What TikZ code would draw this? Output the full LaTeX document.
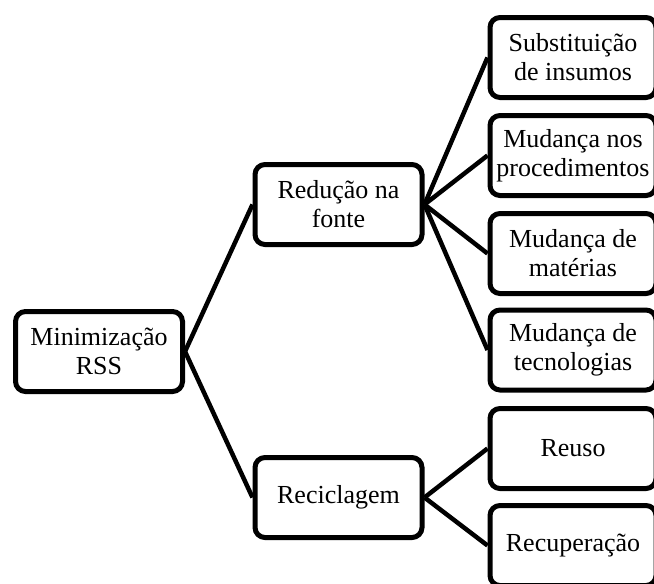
\documentclass[tikz,border=0pt]{standalone}
\usepackage{fontspec}
\setmainfont{Liberation Serif}
\begin{document}
\begin{tikzpicture}[x=1pt,y=-1pt,
  box/.style={draw,line width=5pt,rounded corners=10pt,align=center,inner sep=0pt,
    font=\fontsize{26}{29}\selectfont,minimum width=167pt,minimum height=80pt},
  leaf/.style={box,minimum width=166pt},
  conn/.style={line width=4.5pt}]
\path[use as bounding box] (0,0) rectangle (654,584);
\clip (0,0) rectangle (654,584);
\node[box] (min) at (99,351.5) {Minimização\\RSS};
\node[box] (red) at (338.5,204.5) {Redução na\\fonte};
\node[box] (rec) at (338.5,497.5) {Reciclagem};
\node[leaf] (sub) at (573,57.5) {Substituição\\de insumos};
\node[leaf] (proc) at (573,155.5) {Mudança nos\\procedimentos};
\node[leaf] (mat) at (573,253.5) {Mudança de\\matérias};
\node[leaf] (tec) at (573,350) {Mudança de\\tecnologias};
\node[leaf] (reu) at (573,448.5) {Reuso};
\node[leaf] (recu) at (573,545.5) {Recuperação};
\draw[conn] (min.east) -- (red.west);
\draw[conn] (min.east) -- (rec.west);
\draw[conn] (red.east) -- (sub.west);
\draw[conn] (red.east) -- (proc.west);
\draw[conn] (red.east) -- (mat.west);
\draw[conn] (red.east) -- (tec.west);
\draw[conn] (rec.east) -- (reu.west);
\draw[conn] (rec.east) -- (recu.west);
\end{tikzpicture}
\end{document}
